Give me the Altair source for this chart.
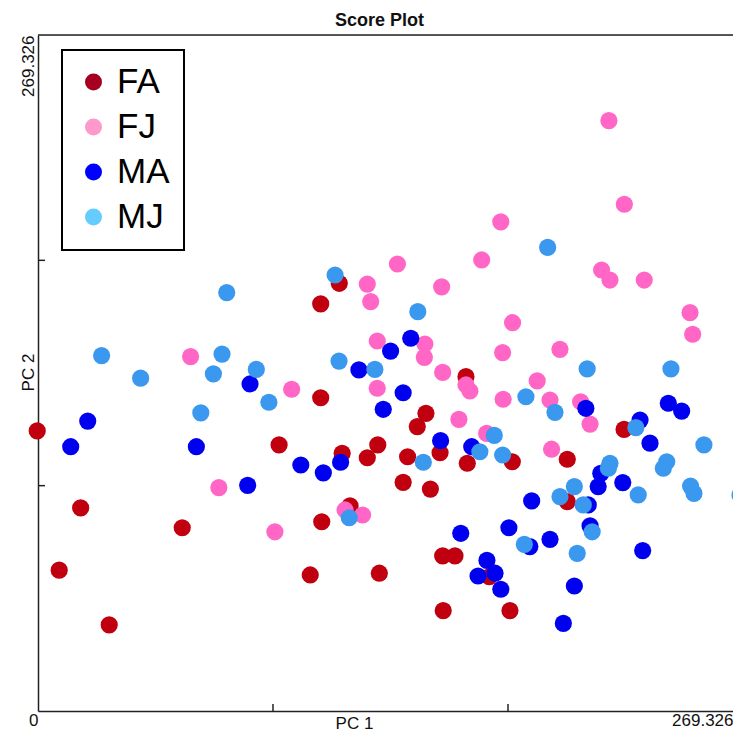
import altair as alt
import pandas as pd

GROUPS = ["FA", "FJ", "MA", "MJ"]
POINT_COLORS = ["#C0000F", "#FF66C6", "#0000F0", "#3A98EE"]
LEGEND_COLORS = ["#A50021", "#FF99CC", "#0000FF", "#66CCFF"]

FA_PC1 = [-0.3, 16.3, 55.1, 8.1, 27.2, 115.1, 108.0, 163.5, 108.0, 148.2, 144.9, 92.1, 129.8, 116.2, 125.8, 141.2, 153.6, 164.0, 139.5, 149.9, 119.2, 108.4, 154.6, 159.3, 104.0, 130.4, 154.8, 223.9, 181.2, 202.2, 202.2, 172.4, 180.3]
FA_PC2 = [111.6, 80.9, 73.0, 56.1, 34.3, 170.4, 162.2, 133.2, 124.8, 118.6, 113.3, 106.0, 106.0, 102.7, 100.9, 101.3, 102.9, 98.7, 91.1, 88.4, 81.7, 75.4, 61.8, 61.8, 54.2, 54.9, 40.0, 112.2, 99.3, 100.3, 83.4, 53.5, 40.0]

FJ_PC1 = [58.3, 69.1, 137.3, 169.5, 125.8, 154.2, 127.1, 129.6, 147.8, 147.6, 154.6, 163.5, 165.0, 96.9, 129.6, 160.8, 171.4, 117.3, 124.0, 90.5, 218.1, 224.0, 176.8, 215.3, 218.5, 231.6, 249.1, 250.1, 181.3, 177.5, 199.4, 190.7, 177.7, 195.6, 207.3, 210.9, 196.2]
FJ_PC2 = [141.2, 89.0, 178.1, 179.7, 170.1, 169.0, 163.1, 147.4, 146.2, 140.9, 134.9, 129.9, 127.5, 128.2, 128.6, 116.2, 110.6, 80.1, 78.1, 71.4, 235.2, 201.9, 194.9, 175.7, 171.7, 171.7, 158.7, 150.1, 154.7, 142.8, 144.1, 131.5, 124.2, 123.9, 123.2, 114.3, 104.3]

MA_PC1 = [19.0, 12.5, 60.5, 80.1, 81.0, 142.4, 134.7, 122.6, 139.5, 131.9, 115.6, 100.4, 109.0, 153.8, 165.7, 161.5, 171.5, 168.1, 209.3, 240.8, 245.9, 230.0, 233.8, 215.0, 214.0, 223.4, 188.6, 210.2, 210.9, 179.9, 195.6, 187.9, 231.0, 174.6, 176.8, 204.9, 200.7]
MA_PC2 = [115.5, 105.3, 105.3, 89.9, 130.3, 148.5, 143.4, 135.9, 126.8, 120.2, 99.1, 98.0, 94.9, 107.7, 105.3, 70.8, 60.0, 53.8, 120.6, 122.6, 119.5, 115.9, 106.7, 94.7, 89.4, 91.0, 83.7, 82.1, 73.8, 73.0, 68.4, 65.5, 63.9, 54.9, 48.5, 49.8, 34.9]

MJ_PC1 = [72.1, 24.3, 39.2, 70.3, 67.0, 83.4, 62.2, 113.5, 145.1, 115.0, 128.7, 88.2, 147.2, 168.8, 118.9, 194.7, 209.8, 241.8, 186.4, 197.5, 228.4, 254.4, 174.3, 177.5, 218.5, 217.9, 204.9, 240.2, 238.9, 249.3, 250.6, 268.2, 229.3, 199.4, 208.3, 211.7, 185.8, 206.0]
MJ_PC2 = [166.7, 141.6, 132.6, 142.2, 134.3, 136.1, 118.8, 173.7, 159.1, 139.4, 136.1, 123.0, 99.1, 103.3, 77.0, 184.7, 136.3, 136.3, 125.2, 119.0, 112.9, 106.0, 109.8, 102.0, 98.7, 96.7, 89.4, 99.3, 96.7, 89.6, 86.7, 86.1, 86.1, 85.4, 82.1, 71.4, 66.4, 62.8]

AXIS_MAX = 269.326
X_VISIBLE_MAX = 265.51   # the picture is cropped before the right end of PC 1
INNER_TICKS = [89.775, 179.551]

rows = []
for g, xs, ys in [("FA", FA_PC1, FA_PC2), ("FJ", FJ_PC1, FJ_PC2),
                  ("MA", MA_PC1, MA_PC2), ("MJ", MJ_PC1, MJ_PC2)]:
    for x, y in zip(xs, ys):
        rows.append({"group": g, "pc1": x, "pc2": y, "seq": len(rows)})
df = pd.DataFrame(rows)

FONT = "Liberation Sans"
AXIS_COLOR = "#222222"

xscale = alt.Scale(domain=[0, X_VISIBLE_MAX], nice=False, zero=False)
yscale = alt.Scale(domain=[0, AXIS_MAX], nice=False, zero=False)

x_axis = alt.Axis(
    values=[0, X_VISIBLE_MAX],
    labelExpr="datum.value < 1 ? '0' : '269.326'",
    title="PC 1", grid=False, ticks=False, tickSize=0,
    domainColor=AXIS_COLOR, domainWidth=1.5,
    labelFlush=False, labelOverlap=False, labelBound=False,
    labelAlign="right", labelBaseline="alphabetic", labelPadding=14,
    labelFont=FONT, labelFontSize=17, labelColor="#111111",
    titleFont=FONT, titleFontSize=17, titleFontWeight="normal", titleColor="#111111",
    titleX=316, titleY=17, titleAlign="center", titleBaseline="alphabetic",
)
y_axis = alt.Axis(
    values=[AXIS_MAX],
    labelExpr="'269.326'",
    title="PC 2", grid=False, ticks=False, tickSize=0,
    domainColor=AXIS_COLOR, domainWidth=1.5,
    labelFlush=False, labelOverlap=False, labelBound=False,
    labelAngle=270, labelAlign="right", labelBaseline="alphabetic", labelPadding=5,
    labelFont=FONT, labelFontSize=17, labelColor="#111111",
    titleFont=FONT, titleFontSize=17, titleFontWeight="normal", titleColor="#111111",
    titleAngle=270, titleX=-5, titleY=337, titleAlign="center", titleBaseline="alphabetic",
)

points = alt.Chart(df).mark_circle(size=295, opacity=1).encode(
    x=alt.X("pc1:Q", scale=xscale, axis=x_axis),
    y=alt.Y("pc2:Q", scale=yscale, axis=y_axis),
    color=alt.Color("group:N", scale=alt.Scale(domain=GROUPS, range=POINT_COLORS), legend=None),
    order=alt.Order("seq:Q"),
)

legend_layer = alt.Chart(df).transform_filter("false").mark_circle(size=289, opacity=1).encode(
    x=alt.X("pc1:Q"),
    y=alt.Y("pc2:Q"),
    color=alt.Color(
        "group:N",
        scale=alt.Scale(domain=GROUPS, range=LEGEND_COLORS),
        legend=alt.Legend(
            title=None, orient="none", legendX=24, legendY=15, direction="vertical",
            strokeColor="black", fillColor="white", padding=14.5,
            cornerRadius=0, symbolType="circle", symbolSize=289, symbolStrokeWidth=0,
            symbolOpacity=1, symbolOffset=-0.5, labelFont=FONT, labelFontSize=35,
            labelColor="black", labelOffset=6, labelExpr="datum.label + '\u00a0'",
        ),
    ),
)

xt = alt.Chart(pd.DataFrame({"pc1": INNER_TICKS})).mark_rule(color=AXIS_COLOR, strokeWidth=1.5).encode(
    x=alt.X("pc1:Q"), y=alt.value(676), y2=alt.value(669)
)
yt = alt.Chart(pd.DataFrame({"pc2": INNER_TICKS})).mark_rule(color=AXIS_COLOR, strokeWidth=1.5).encode(
    y=alt.Y("pc2:Q"), x=alt.value(0), x2=alt.value(7)
)
top_border = alt.Chart(pd.DataFrame({"k": [0]})).mark_rule(color=AXIS_COLOR, strokeWidth=1.5).encode(
    y=alt.value(0)
)

chart = alt.layer(points, legend_layer, xt, yt, top_border).resolve_scale(
    color="independent"
).properties(
    width=695, height=676,
    autosize=alt.AutoSizeParams(type="none"),
    padding={"left": 30, "top": 27, "right": 0, "bottom": 22},
    title=alt.TitleParams(
        "Score Plot", font=FONT, fontSize=18, fontWeight="bold", color="#111111",
        anchor="middle", dx=-6, dy=18, offset=8, baseline="alphabetic",
    ),
).configure_view(stroke=None).configure(font=FONT).configure_legend(
    strokeWidth=2, rowPadding=9
)

chart.save("out.html", embed_options={"renderer": "svg", "actions": False})
